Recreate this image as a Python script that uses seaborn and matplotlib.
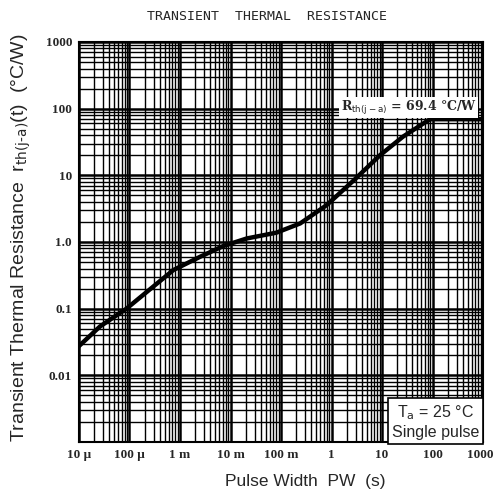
import numpy as np
import pandas as pd
import matplotlib
matplotlib.use("Agg")
import matplotlib.pyplot as plt
import matplotlib.transforms as mtransforms
import seaborn as sns
from matplotlib.ticker import LogLocator, NullFormatter

# Data
pulse_width = [1e-5, 2.6e-5, 8.7e-5, 7.4e-4, 2.5e-3, 7.2e-3, 2.1e-2, 8.1e-2,
               0.24, 0.8, 2.8, 9.1, 26, 66, 89, 1000]
rth = [0.0275, 0.054, 0.10, 0.38, 0.60, 0.87, 1.13, 1.38,
       1.9, 3.57, 8.5, 20, 38, 60, 69.4, 69.4]

x_ticks = [1e-5, 1e-4, 1e-3, 1e-2, 1e-1, 1, 10, 100, 1000]
x_tick_labels = ["10 µ", "100 µ", "1 m", "10 m", "100 m", "1", "10", "100", "1000"]
y_ticks = [0.01, 0.1, 1, 10, 100, 1000]
y_tick_labels = ["0.01", "0.1", "1.0", "10", "100", "1000"]

df = pd.DataFrame({"pw": pulse_width, "rth": rth})

sns.set_theme(style="white")
plt.rcParams["font.family"] = ["DejaVu Sans"]

fig = plt.figure(figsize=(4.95, 4.96), dpi=100)
ax = fig.add_axes([79/495, 1-442/496, (483-79)/495, (442-42)/496])

ax.set_xscale("log")
ax.set_yscale("log")
ax.set_xlim(1e-5, 1000)
ax.set_ylim(1e-3, 1000)

# grid
ax.xaxis.set_minor_locator(LogLocator(base=10, subs=np.arange(2, 10)))
ax.yaxis.set_minor_locator(LogLocator(base=10, subs=np.arange(2, 10)))
ax.xaxis.set_minor_formatter(NullFormatter())
ax.yaxis.set_minor_formatter(NullFormatter())
ax.grid(True, which="major", color="black", linewidth=1.8)
ax.grid(True, which="minor", color="black", linewidth=1.0)
ax.set_axisbelow(True)

sns.lineplot(data=df, x="pw", y="rth", ax=ax, color="black", linewidth=3.2,
             zorder=5)

ax.set_xticks(x_ticks)
ax.set_xticklabels(x_tick_labels, fontfamily="Liberation Serif", fontsize=9.5,
                   fontweight="bold")
ax.set_yticks(y_ticks)
ax.set_yticklabels(y_tick_labels, fontfamily="Liberation Serif", fontsize=9.5,
                   fontweight="bold")
ax.tick_params(axis="both", which="both", length=0, pad=5)
last = ax.get_xticklabels()[-1]
last.set_horizontalalignment("right")
last.set_transform(last.get_transform() +
                   mtransforms.ScaledTranslation(11/100, 0, fig.dpi_scale_trans))

for s in ax.spines.values():
    s.set_color("black")
    s.set_linewidth(1.5)

ax.set_xlabel("Pulse Width  PW  (s)", fontfamily="Liberation Sans", fontsize=12.5)
ax.xaxis.set_label_coords(0.56, -0.08)
ax.set_ylabel("Transient Thermal Resistance  r$_{\\rm th(j\\text{-}a)}$(t)  (°C/W)",
              fontfamily="Liberation Sans", fontsize=14)
ax.yaxis.set_label_coords(-0.115, 0.51)

fig.text(267/495, 1-17/496, "TRANSIENT  THERMAL  RESISTANCE", ha="center",
         va="center", fontfamily="DejaVu Sans Mono", fontsize=9.5)

ax.text(0.985, 0.836, "R$_{\\rm th(j-a)}$ = 69.4 °C/W", transform=ax.transAxes,
        ha="right", va="center", fontfamily="DejaVu Serif", fontsize=9,
        fontweight="bold",
        bbox=dict(boxstyle="square,pad=0.12", facecolor="white", edgecolor="none"),
        zorder=6)

ax.text(0.99, 0.006, "T$_{\\rm a}$ = 25 °C\nSingle pulse", transform=ax.transAxes,
        ha="right", va="bottom", fontfamily="Liberation Sans", fontsize=11.5,
        linespacing=1.2, multialignment="center",
        bbox=dict(boxstyle="square,pad=0.25", facecolor="white", edgecolor="black",
                  linewidth=1.2),
        zorder=6)

fig.savefig("out.png", dpi=100, facecolor="white")
